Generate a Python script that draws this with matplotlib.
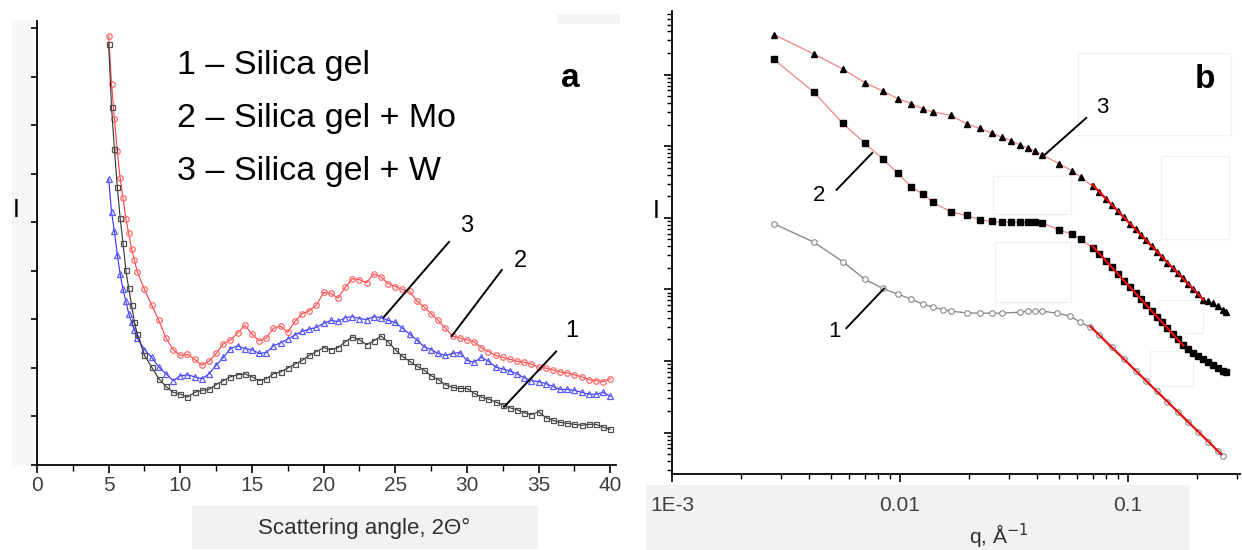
import matplotlib
matplotlib.use("Agg")
import matplotlib.pyplot as plt
from matplotlib.patches import Rectangle
from matplotlib.ticker import MultipleLocator, FixedLocator, FixedFormatter, LogLocator, NullFormatter

narrow = ['Liberation Sans Narrow', 'Liberation Sans', 'DejaVu Sans']
plain = ['Liberation Sans', 'DejaVu Sans']

# ---- panel a: WAXS curves (arbitrary intensity units) ----
angle = [5.0, 5.2, 5.4, 5.6, 5.8, 6.0, 6.2, 6.4, 6.6, 6.8, 7.0, 7.5, 8.0, 8.5, 9.0, 9.5,
         10.0, 10.5, 11.0, 11.5, 12.0, 12.5, 13.0, 13.5, 14.0, 14.5, 15.0, 15.5, 16.0, 16.5,
         17.0, 17.5, 18.0, 18.5, 19.0, 19.5, 20.0, 20.5, 21.0, 21.5, 22.0, 22.5, 23.0, 23.5,
         24.0, 24.5, 25.0, 25.5, 26.0, 26.5, 27.0, 27.5, 28.0, 28.5, 29.0, 29.5, 30.0, 30.5,
         31.0, 31.5, 32.0, 32.5, 33.0, 33.5, 34.0, 34.5, 35.0, 35.5, 36.0, 36.5, 37.0, 37.5,
         38.0, 38.5, 39.0, 39.5, 40.0]
silica = [4.83, 4.18, 3.75, 3.36, 3.04, 2.78, 2.50, 2.31, 2.14, 1.96, 1.84, 1.62, 1.50, 1.38, 1.30, 1.24,
          1.22, 1.19, 1.24, 1.26, 1.27, 1.32, 1.36, 1.40, 1.42, 1.43, 1.40, 1.36, 1.38, 1.43,
          1.45, 1.49, 1.53, 1.57, 1.62, 1.66, 1.70, 1.68, 1.70, 1.76, 1.81, 1.78, 1.73, 1.77,
          1.82, 1.76, 1.68, 1.61, 1.56, 1.51, 1.47, 1.41, 1.37, 1.32, 1.29, 1.28, 1.28, 1.23,
          1.19, 1.17, 1.14, 1.11, 1.08, 1.06, 1.03, 1.01, 1.04, 0.98, 0.95, 0.93, 0.92, 0.91,
          0.90, 0.91, 0.91, 0.88, 0.86]
silica_mo = [4.91, 4.42, 4.06, 3.73, 3.45, 3.24, 3.03, 2.88, 2.72, 2.60, 2.48, 2.30, 2.14, 1.98, 1.80, 1.68,
             1.62, 1.63, 1.58, 1.52, 1.56, 1.64, 1.74, 1.78, 1.85, 1.93, 1.84, 1.77, 1.80, 1.90,
             1.92, 1.86, 1.97, 2.05, 2.08, 2.14, 2.27, 2.26, 2.21, 2.32, 2.41, 2.40, 2.37, 2.46,
             2.43, 2.36, 2.33, 2.30, 2.28, 2.18, 2.12, 2.05, 1.98, 1.90, 1.82, 1.80, 1.78, 1.76,
             1.70, 1.66, 1.62, 1.60, 1.58, 1.56, 1.55, 1.53, 1.50, 1.49, 1.47, 1.45, 1.44, 1.42,
             1.40, 1.37, 1.36, 1.35, 1.38]
silica_w = [3.44, 3.10, 2.90, 2.66, 2.46, 2.30, 2.18, 2.05, 1.96, 1.88, 1.80, 1.68, 1.60, 1.50, 1.43, 1.36,
            1.41, 1.42, 1.40, 1.38, 1.43, 1.52, 1.60, 1.69, 1.72, 1.69, 1.68, 1.64, 1.65, 1.72,
            1.75, 1.79, 1.83, 1.87, 1.89, 1.91, 1.95, 1.98, 1.97, 2.01, 2.02, 2.00, 1.99, 2.02,
            2.01, 1.98, 1.96, 1.90, 1.84, 1.78, 1.71, 1.68, 1.64, 1.62, 1.64, 1.65, 1.57, 1.55,
            1.60, 1.56, 1.50, 1.48, 1.46, 1.43, 1.39, 1.36, 1.35, 1.33, 1.30, 1.27, 1.27, 1.26,
            1.24, 1.22, 1.22, 1.24, 1.20]
legend_lines = ["1 \u2013 Silica gel", "2 \u2013 Silica gel + Mo", "3 \u2013 Silica gel + W"]

# ---- panel b: SAXS curves ----
q23 = [0.0028, 0.0042, 0.0056, 0.0070, 0.0084, 0.0098, 0.0112, 0.0126, 0.0140, 0.0168,
       0.0196, 0.0224, 0.0252, 0.0280, 0.0308, 0.0336, 0.0364, 0.0392, 0.0420, 0.0497,
       0.0566, 0.0623, 0.0700, 0.075, 0.080, 0.085, 0.090, 0.096, 0.102, 0.108,
       0.114, 0.120, 0.127, 0.134, 0.141, 0.149, 0.157, 0.165, 0.174, 0.183,
       0.193, 0.203, 0.214, 0.225, 0.236, 0.248, 0.260, 0.268]
I3 = [362, 193, 120, 77.3, 59.0, 46.0, 39.4, 33.2, 30.0, 26.9,
      20.5, 17.7, 15.3, 13.3, 11.9, 10.4, 9.42, 8.51, 7.60, 5.73,
      4.57, 3.66, 2.75, 2.29, 1.85, 1.51, 1.25, 1.01, 0.83, 0.687,
      0.574, 0.484, 0.402, 0.337, 0.284, 0.237, 0.200, 0.169, 0.142, 0.120,
      0.101, 0.0855, 0.0718, 0.068, 0.064, 0.058, 0.052, 0.049]
I2 = [163, 56.4, 20.9, 11.1, 6.64, 4.18, 2.72, 2.15, 1.64, 1.20,
      1.08, 0.94, 0.89, 0.875, 0.870, 0.865, 0.862, 0.860, 0.855, 0.68,
      0.59, 0.50, 0.38, 0.314, 0.251, 0.203, 0.166, 0.133, 0.107, 0.0881,
      0.0729, 0.0610, 0.0500, 0.0414, 0.0347, 0.0286, 0.0238, 0.0200, 0.0167, 0.0148,
      0.0131, 0.0118, 0.0106, 0.0096, 0.0088, 0.0080, 0.0073, 0.0070]
q1 = [0.0028, 0.0042, 0.0056, 0.0070, 0.0084, 0.0098, 0.0112, 0.0126, 0.0140, 0.0154,
      0.0168, 0.0196, 0.0224, 0.0252, 0.0280, 0.0336, 0.0364, 0.0392, 0.0420, 0.0487,
      0.0558, 0.0616, 0.0680, 0.075, 0.085, 0.096, 0.108, 0.120, 0.134, 0.149,
      0.165, 0.183, 0.203, 0.225, 0.248, 0.262]
I1 = [0.826, 0.455, 0.245, 0.139, 0.103, 0.0858, 0.073, 0.0622, 0.0565, 0.0520,
      0.0497, 0.0470, 0.0466, 0.0466, 0.0466, 0.0481, 0.0497, 0.0497, 0.0497, 0.0466,
      0.0423, 0.0349, 0.0297, 0.0229, 0.0155, 0.0106, 0.00735, 0.0053, 0.00376, 0.0027,
      0.00196, 0.00142, 0.00103, 0.00075, 0.00055, 0.00047]
# power-law fits (red lines)
fit_q1, fit_I1 = [0.0684, 0.2566], [0.0304, 0.000499]
fit_q2, fit_I2 = [0.0697, 0.175], [0.406, 0.0164]
fit_q3, fit_I3 = [0.0697, 0.214], [2.92, 0.0718]

W, H = 1242, 550
fig = plt.figure(figsize=(W / 100, H / 100), dpi=100)

def fx(px):
    return px / W

def fy(py):
    return 1 - py / H

# faint grey boxes of the scanned original
for x0, y0, x1, y1, c in [(192, 506, 538, 549, '#f2f2f2'), (646, 485, 1189, 550, '#f2f2f2'),
                          (12, 20, 34, 466, '#f7f7f7'), (557, 14, 620, 24, '#f5f5f5')]:
    fig.add_artist(Rectangle((fx(x0), fy(y1)), fx(x1 - x0), (y1 - y0) / H,
                             transform=fig.transFigure, facecolor=c,
                             edgecolor='none', zorder=-5))
# very faint outlines behind panel b
for x0, y0, x1, y1 in [(1078, 53, 1231, 135), (1161, 156, 1229, 239), (993, 176, 1071, 214),
                       (995, 242, 1071, 302), (1158, 300, 1203, 333), (1150, 351, 1193, 386)]:
    fig.add_artist(Rectangle((fx(x0), fy(y1)), fx(x1 - x0), (y1 - y0) / H,
                             transform=fig.transFigure, facecolor='white',
                             edgecolor='#f1f1f1', lw=1.0, zorder=-5))

# ---------------- panel a ----------------
ax = fig.add_axes([fx(37), fy(465), fx(616 - 37), (465 - 21) / H])
ax.patch.set_alpha(0)
ax.plot(angle, silica_mo, color='#ff4040', lw=0.8, marker='o', ms=4.0, mfc='none',
        mec='#ff6a6a', mew=0.9, zorder=3)
ax.plot(angle, silica_w, color='#3030ff', lw=0.8, marker='^', ms=4.0, mfc='none',
        mec='#5a5aff', mew=0.9, zorder=3)
ax.plot(angle, silica, color='#303030', lw=0.8, marker='s', ms=3.6, mfc='none',
        mec='#505050', mew=0.9, zorder=4)
ax.set_xlim(0, 40.4)
ax.set_ylim(0.491, 5.066)
for s in ['top', 'right']:
    ax.spines[s].set_visible(False)
for s in ['left', 'bottom']:
    ax.spines[s].set_linewidth(1.3)
ax.xaxis.set_major_locator(MultipleLocator(5))
ax.xaxis.set_minor_locator(MultipleLocator(2.5))
ax.yaxis.set_major_locator(MultipleLocator(0.5, offset=0.491))
ax.tick_params(axis='both', which='major', direction='out', length=6, width=1.2,
               labelsize=15, labelcolor='#404040')
ax.tick_params(axis='y', which='major', length=4.5)
ax.tick_params(axis='x', which='minor', direction='out', length=4, width=1.0)
ax.tick_params(axis='y', which='both', labelleft=False)
ax.tick_params(axis='x', pad=2)
for lab in ax.get_xticklabels():
    lab.set_family(narrow)

for i, txt in enumerate(legend_lines):
    ax.text(9.75, 4.61 - 0.545 * i, txt, fontsize=24.5, family=plain, va='center', ha='left')
ax.text(37.2, 4.47, 'a', fontsize=24, fontweight='bold', family=plain, va='center', ha='center')

ax.plot([28.75, 24.17], [2.79, 2.01], color='black', lw=1.4, zorder=5)
ax.text(30.0, 2.95, '3', fontsize=17, family=plain, ha='center', va='center')
ax.plot([32.43, 28.94], [2.50, 1.82], color='black', lw=1.4, zorder=5)
ax.text(33.7, 2.59, '2', fontsize=17, family=plain, ha='center', va='center')
ax.plot([36.22, 32.59], [1.66, 1.09], color='black', lw=1.4, zorder=5)
ax.text(37.3, 1.87, '1', fontsize=17, family=plain, ha='center', va='center')

fig.text(fx(16), fy(210), 'I', fontsize=18, family=plain, ha='center', va='center')
fig.text(fx(364), fy(528), 'Scattering angle, 2\u0398\u00b0', fontsize=16, family=narrow,
         color='#303030', ha='center', va='center')

# ---------------- panel b ----------------
bx = fig.add_axes([fx(672), fy(474), fx(1240 - 672), (474 - 11) / H])
bx.patch.set_alpha(0)
bx.set_xscale('log')
bx.set_yscale('log')
bx.plot(q1, I1, color='#8a8a8a', lw=1.0, marker='o', ms=4, mfc='white', mec='#8a8a8a',
        mew=0.8, zorder=3)
bx.plot(q23, I2, color='#f29090', lw=1.0, marker='s', ms=4, mfc='black', mec='black',
        zorder=3)
bx.plot(q23, I3, color='#f29090', lw=1.0, marker='^', ms=5, mfc='black', mec='black',
        zorder=3)
for fq, fi in [(fit_q1, fit_I1), (fit_q2, fit_I2), (fit_q3, fit_I3)]:
    bx.plot(fq, fi, color='#e41010', lw=1.6, zorder=4)
bx.set_xlim(1e-3, 0.31)
bx.set_ylim(10 ** -3.578, 10 ** 2.888)
for s in ['top', 'right']:
    bx.spines[s].set_visible(False)
for s in ['left', 'bottom']:
    bx.spines[s].set_linewidth(1.3)
bx.xaxis.set_major_locator(FixedLocator([1e-3, 1e-2, 1e-1]))
bx.xaxis.set_major_formatter(FixedFormatter(['1E-3', '0.01', '0.1']))
bx.xaxis.set_minor_locator(LogLocator(base=10, subs=[2, 3, 4, 5, 6, 7, 8, 9], numticks=20))
bx.xaxis.set_minor_formatter(NullFormatter())
bx.yaxis.set_major_locator(LogLocator(base=10, numticks=20))
bx.yaxis.set_minor_locator(LogLocator(base=10, subs=[2, 3, 4, 5, 6, 7, 8, 9], numticks=20))
bx.yaxis.set_minor_formatter(NullFormatter())
bx.tick_params(axis='both', which='major', direction='out', length=6, width=1.2,
               labelsize=15, labelcolor='#404040')
bx.tick_params(axis='both', which='minor', direction='out', length=3.5, width=1.0)
bx.tick_params(axis='y', which='both', labelleft=False)
bx.tick_params(axis='x', pad=10)
for lab in bx.get_xticklabels():
    lab.set_family(narrow)

bx.plot([0.0656, 0.0423], [24.8, 7.18], color='black', lw=1.4, zorder=5)
bx.text(0.077, 34.8, '3', fontsize=16, family=plain, ha='center', va='center')
bx.plot([0.00527, 0.00755], [2.46, 8.04], color='black', lw=1.4, zorder=5)
bx.text(0.0044, 2.08, '2', fontsize=16, family=plain, ha='center', va='center')
bx.plot([0.00582, 0.00851], [0.0288, 0.1028], color='black', lw=1.4, zorder=5)
bx.text(0.00516, 0.0257, '1', fontsize=16, family=plain, ha='center', va='center')
bx.text(0.218, 85, 'b', fontsize=24, fontweight='bold', family=plain, ha='center', va='center')

fig.text(fx(656), fy(211), 'I', fontsize=18, family=plain, ha='center', va='center')
fig.text(fx(999), fy(536), 'q, \u00c5$^{-1}$', fontsize=15, family=narrow, color='#303030',
         ha='center', va='center')

fig.savefig('out.png', dpi=100, facecolor='white')
